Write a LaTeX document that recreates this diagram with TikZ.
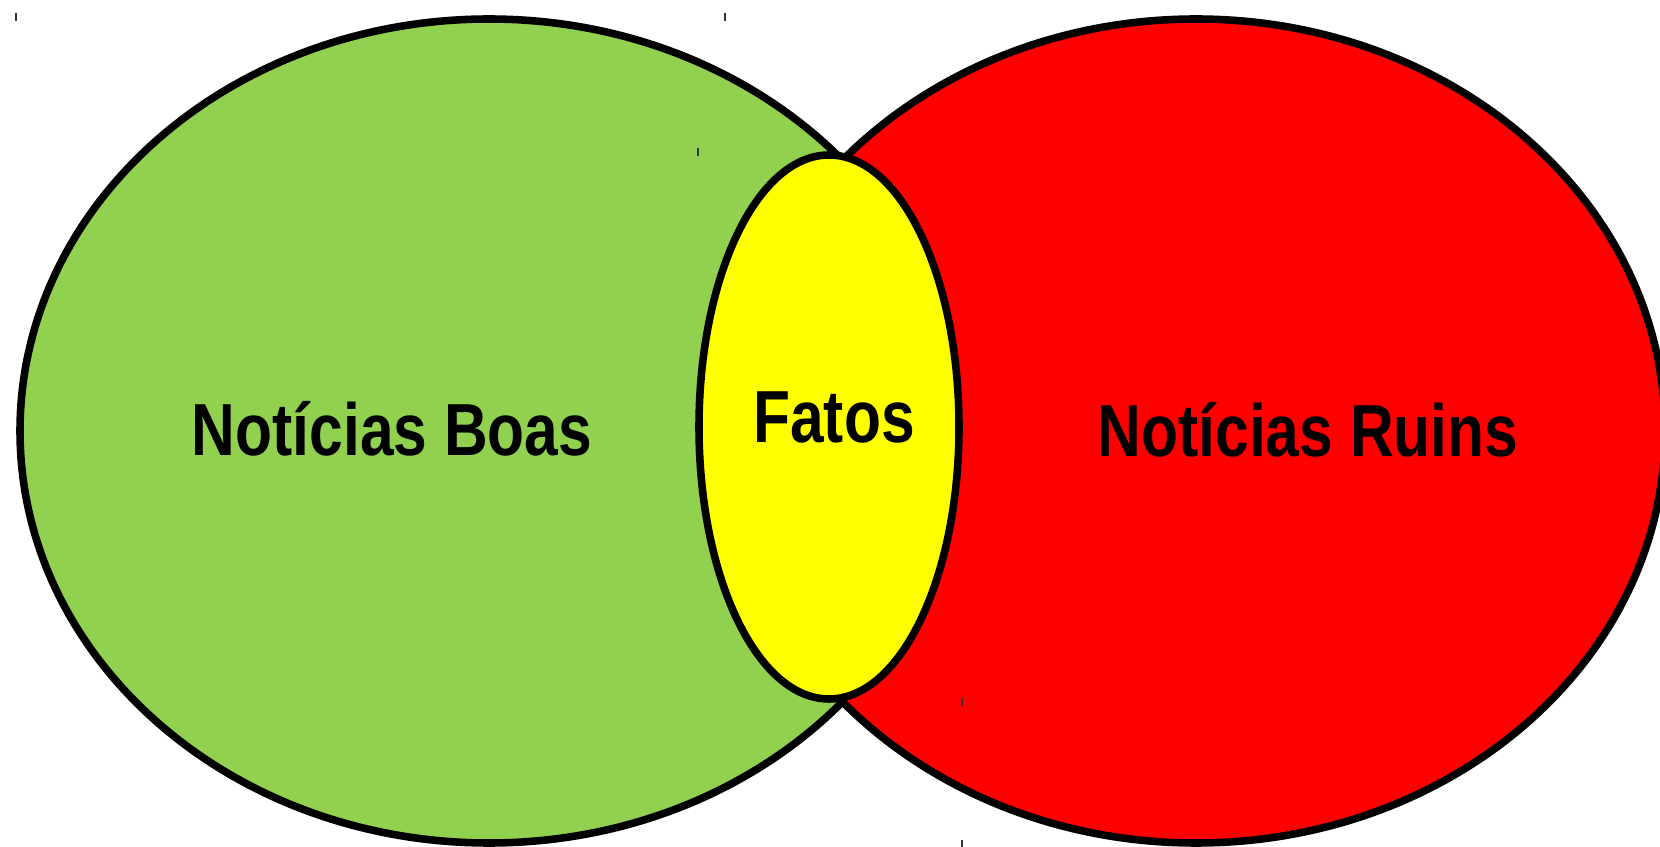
\documentclass[tikz,border=0pt]{standalone}
\usepackage{fontspec}
\newfontfamily\newsfont[FakeStretch=0.82]{Liberation Sans}
\definecolor{boagreen}{RGB}{146,208,80}
\definecolor{ruimred}{RGB}{255,0,0}
\definecolor{fatoyellow}{RGB}{255,255,0}

\begin{document}
\begin{tikzpicture}[x=0.02cm,y=-0.02cm,
    conjunto/.style={line width=4.3pt,draw=black},
    rotulo/.style={anchor=base,inner sep=0pt,font=\newsfont\bfseries\fontsize{42}{42}\selectfont},
    marca/.style={line width=0.6pt,color=black!80}]
        \useasboundingbox (0,0) rectangle (1660,847);
        \draw[conjunto,fill=boagreen] (489,431) ellipse (469 and 412);
        \draw[conjunto,fill=ruimred] (1196,431) ellipse (469 and 412);
        \draw[conjunto,fill=fatoyellow] (829,427) ellipse (130 and 272);
        \node[rotulo] (boas) at (392,456) {Notícias Boas};
        \node[rotulo] (ruins) at (1308,457) {Notícias Ruins};
        \node[rotulo] (fatos) at (834,443) {Fatos};
        \foreach \x/\y in {16/13,725/13,698/148,962/698,962/840}
            \draw[marca] (\x,\y) -- (\x,\y+8);
    \end{tikzpicture}
\end{document}
